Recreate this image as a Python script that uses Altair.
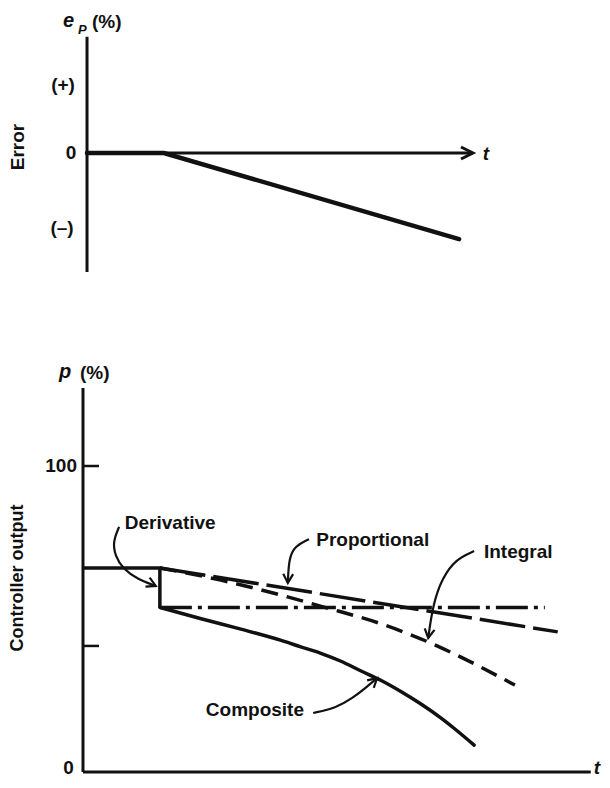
import altair as alt
import pandas as pd

FONT = "Liberation Sans"
INK = "#111111"

# ---------------- top panel: error e_P vs t ----------------
err_t = [0.0, 1.49, 7.21]
err_e = [0.0, 0.0, -1.23]

# ---------------- bottom panel: controller output p (%) vs t ----------------
step_t = [0.0, 1.49, 1.49]
step_p = [66.7, 66.7, 53.8]

comp_t = [1.49, 2.29, 3.06, 3.84, 4.22, 4.61, 5.00, 5.39, 5.78, 6.16, 6.55, 6.94, 7.19, 7.58]
comp_p = [53.8, 50.1, 46.7, 43.0, 40.9, 38.8, 36.2, 33.0, 29.9, 26.3, 22.2, 17.6, 14.3, 8.8]

prop_t = [1.49, 9.20]
prop_p = [66.7, 45.8]

int_t = [1.49, 2.67, 3.84, 4.67, 5.78, 6.69, 7.52, 8.37]
int_p = [66.7, 62.7, 57.8, 53.9, 48.4, 42.5, 35.9, 28.4]

der_t = [1.49, 8.95]
der_p = [53.8, 53.8]

# annotation leader curves (label -> line)
arrow_ids = ["Derivative"] * 6 + ["Proportional"] * 4 + ["Integral"] * 5 + ["Composite"] * 5
arrow_t = [0.70, 0.58, 0.62, 0.78, 1.05, 1.41,
           4.38, 4.11, 3.99, 3.97,
           7.58, 7.23, 6.96, 6.78, 6.69,
           4.46, 4.90, 5.23, 5.48, 5.70]
arrow_p = [80.1, 75.5, 70.6, 66.3, 63.1, 60.8,
           76.1, 73.9, 69.9, 61.8,
           72.2, 69.6, 63.4, 54.6, 43.8,
           19.3, 20.9, 24.2, 27.5, 30.7]
head_t = [1.41, 3.97, 6.69, 5.70]
head_p = [60.8, 61.8, 43.8, 30.7]
head_angle = [25, 92, 99, 318]

label_text = ["Derivative", "Proportional", "Integral", "Composite"]
label_t = [0.81, 4.52, 7.77, 2.38]
label_p = [81.4, 75.8, 71.9, 20.3]

tick_values = [100, 41.2]

# ---------------- scales ----------------
def sc(dom):
    return alt.Scale(domain=dom, nice=False, zero=False)

XT, YT = sc([-1.512, 9.922]), sc([-1.957, 2.071])
XB, YB = sc([-1.434, 10.0]), sc([-0.65, 154.25])
ARROW = "M-1,-0.5L0,0L-1,0.5"
ARROW_S = "M-1,-0.55L0,0L-1,0.55"


def enc(chart, xs, ys, x2=False, y2=False, **kw):
    e = dict(x=alt.X("t:Q", scale=xs, axis=None), y=alt.Y("v:Q", scale=ys, axis=None))
    if x2:
        e["x2"] = "t2:Q"
    if y2:
        e["y2"] = "v2:Q"
    e.update(kw)
    return chart.encode(**e)


def df(**cols):
    return pd.DataFrame(cols)


def texts(labels, ts, vs, xs, ys, **props):
    base = dict(font=FONT, fontWeight="bold", fontSize=19, color=INK)
    base.update(props)
    return enc(alt.Chart(df(label=labels, t=ts, v=vs)).mark_text(**base), xs, ys, text="label:N")


def line(ts, vs, xs, ys, **props):
    base = dict(color=INK, strokeWidth=3.5)
    base.update(props)
    return enc(alt.Chart(df(t=ts, v=vs, o=list(range(len(ts))))).mark_line(**base), xs, ys, order="o:Q")


# ---------------- top panel ----------------
top_layers = [
    enc(alt.Chart(df(t=[0.0], v=[-1.70], v2=[1.66])).mark_rule(color=INK, strokeWidth=3), XT, YT, y2=True),
    enc(alt.Chart(df(t=[0.0], t2=[7.46], v=[0.0])).mark_rule(color=INK, strokeWidth=3), XT, YT, x2=True),
    enc(alt.Chart(df(t=[7.48], v=[0.0])).mark_point(shape=ARROW, size=576, filled=False, strokeWidth=3,
                                                    color=INK, opacity=1), XT, YT),
    line(err_t, err_e, XT, YT, strokeWidth=4.5, strokeCap="round"),
    texts(["(+)", "0", "(–)"], [-0.465, -0.31, -0.484], [0.97, 0.0, -1.07], XT, YT,
          align="center", baseline="middle"),
    texts(["(%)"], [0.097], [1.786], XT, YT, align="left", baseline="alphabetic"),
    texts(["e"], [-0.465], [1.80], XT, YT, align="left", baseline="alphabetic", fontStyle="italic",
          fontSize=20),
    texts(["P"], [-0.174], [1.70], XT, YT, align="left", baseline="alphabetic", fontStyle="italic",
          fontSize=13),
    texts(["t"], [7.67], [-0.02], XT, YT, align="left", baseline="middle", fontStyle="italic"),
    texts(["Error"], [-1.337], [0.086], XT, YT, align="center", baseline="middle", angle=270),
]
top = alt.layer(*top_layers).properties(width=590, height=282)

# ---------------- bottom panel ----------------
bottom_layers = [
    enc(alt.Chart(df(t=[0.0], v=[0.0], v2=[125.5])).mark_rule(color=INK, strokeWidth=3), XB, YB, y2=True),
    enc(alt.Chart(df(t=[0.0], t2=[9.84], v=[0.0])).mark_rule(color=INK, strokeWidth=3), XB, YB, x2=True),
    enc(alt.Chart(df(t=[0.0, 0.0], t2=[0.31, 0.31], v=tick_values)).mark_rule(color=INK, strokeWidth=2.5),
        XB, YB, x2=True),
    line(prop_t, prop_p, XB, YB, strokeDash=[46, 8]),
    line(int_t, int_p, XB, YB, strokeDash=[17, 9], interpolate="monotone"),
    line(der_t, der_p, XB, YB, strokeDash=[32, 6, 4, 6]),
    line(step_t, step_p, XB, YB),
    line(comp_t, comp_p, XB, YB, interpolate="monotone", strokeCap="round"),
    enc(alt.Chart(df(id=arrow_ids, t=arrow_t, v=arrow_p, o=list(range(len(arrow_t))))).mark_line(
        color=INK, strokeWidth=2.2, interpolate="basis"), XB, YB, order="o:Q", detail="id:N"),
    enc(alt.Chart(df(t=head_t, v=head_p, a=head_angle)).mark_point(
        shape=ARROW_S, size=324, filled=False, strokeWidth=2.2, color=INK, opacity=1), XB, YB,
        angle=alt.Angle("a:Q", scale=None)),
    texts(label_text, label_t, label_p, XB, YB, align="left", baseline="middle"),
    texts(["100"], [-0.116], [100.0], XB, YB, align="right", baseline="middle"),
    texts(["0"], [-0.28], [1.3], XB, YB, align="center", baseline="middle"),
    texts(["(%)"], [-0.058], [128.4], XB, YB, align="left", baseline="alphabetic"),
    texts(["p"], [-0.465], [128.8], XB, YB, align="left", baseline="alphabetic", fontStyle="italic",
          fontSize=20),
    texts(["t"], [9.90], [1.3], XB, YB, align="left", baseline="middle", fontStyle="italic"),
    texts(["Controller output"], [-1.26], [63.4], XB, YB, align="center", baseline="middle",
          angle=270, fontSize=18),
]
bottom = alt.layer(*bottom_layers).properties(width=590, height=474)

chart = alt.vconcat(top, bottom, spacing=10, bounds="flush").properties(
    padding=0, background="white").configure_view(strokeWidth=0, stroke="transparent")

chart.save("out.html", embed_options={"renderer": "svg", "actions": False})
